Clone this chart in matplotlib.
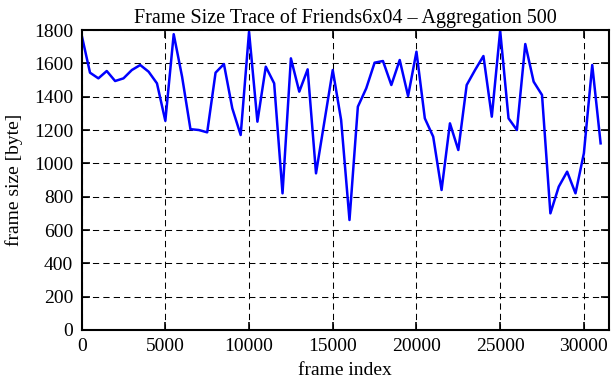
import matplotlib
matplotlib.use("Agg")
import matplotlib.pyplot as plt
import numpy as np

frame_index = [i * 500 for i in range(63)]
frame_size = [1770, 1544, 1510, 1554, 1494, 1510, 1560, 1590, 1550, 1480,
              1255, 1775, 1520, 1205, 1200, 1186, 1544, 1596, 1330, 1170,
              1790, 1250, 1580, 1480, 820, 1630, 1430, 1564, 940, 1250,
              1560, 1260, 660, 1340, 1450, 1604, 1614, 1470, 1620, 1404,
              1670, 1270, 1160, 840, 1240, 1080, 1470, 1560, 1644, 1280,
              1796, 1270, 1200, 1716, 1490, 1410, 700, 860, 950, 820,
              1060, 1590, 1120]
x_ticks = [0, 5000, 10000, 15000, 20000, 25000, 30000]
y_ticks = list(range(0, 1801, 200))

plt.rcParams['font.family'] = ['Liberation Serif', 'DejaVu Serif']
fig = plt.figure(figsize=(6.11, 3.8), dpi=100)
ax = fig.add_axes([0.1336, 0.1316, 0.9967 - 0.1336, 0.921 - 0.1316])
ax.plot(frame_index, frame_size, color='#0000ff', lw=1.8)
ax.set_xlim(0, 31500)
ax.set_ylim(0, 1800)
ax.set_xticks(x_ticks)
ax.set_yticks(y_ticks)
ax.grid(True, color='black', linestyle=(0, (6, 4)), linewidth=0.75)
ax.tick_params(direction='in', top=True, right=True, length=6, width=1.2, labelsize=14, pad=6)
for s in ax.spines.values():
    s.set_linewidth(1.5)
ax.set_xlabel('frame index', fontsize=14, labelpad=5)
ax.set_ylabel('frame size [byte]', fontsize=14, labelpad=8)
ax.set_title('Frame Size Trace of Friends6x04 – Aggregation 500', fontsize=14.5, pad=5)
fig.savefig('out.png', dpi=100)
